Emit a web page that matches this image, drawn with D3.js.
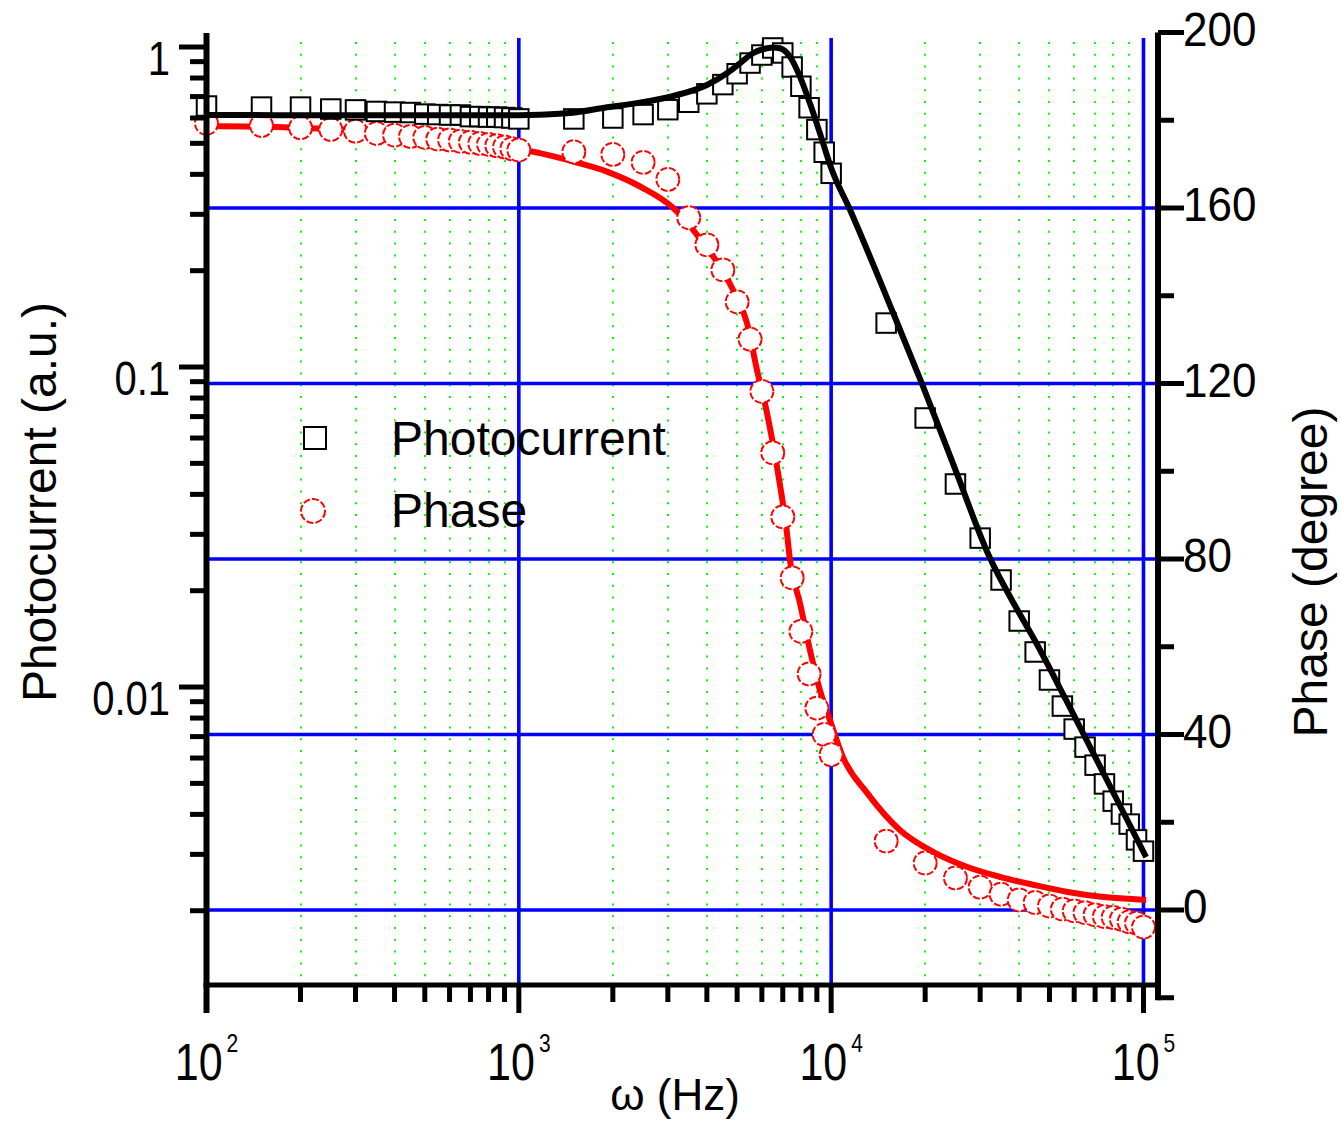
<!DOCTYPE html>
<html><head><meta charset="utf-8">
<script src="https://cdn.jsdelivr.net/npm/d3@7"></script>
<style>body{margin:0;background:#fff}svg{display:block}text{font-family:"Liberation Sans",Arial,sans-serif;fill:#000}</style>
</head><body><svg id="c" width="1341" height="1122"></svg>
<script>
// ---- data ----
const frequency = [100,150,200,250,300,350,400,450,500,550,600,650,700,750,800,850,900,950,1000,
  1500,2000,2500,3000,3500,4000,4500,5000,5500,6000,6500,7000,7500,8000,8500,9000,9500,10000,
  15000,20000,25000,30000,35000,40000,45000,50000,55000,60000,65000,70000,75000,80000,85000,90000,95000,100000];
const photocurrent = [0.654,0.649,0.649,0.640,0.636,0.629,0.626,0.624,0.617,0.615,0.613,0.613,0.606,0.606,0.604,0.604,0.602,0.600,0.596,
  0.596,0.600,0.615,0.637,0.672,0.714,0.763,0.825,0.891,0.944,0.993,0.958,0.866,0.754,0.646,0.552,0.469,0.403,
  0.1372,0.0693,0.0431,0.0292,0.0216,0.01608,0.01287,0.01052,0.00872,0.00739,0.00649,0.00570,0.00498,0.00440,0.00401,0.00373,0.00333,0.00307];
const phase = [179.3,178.8,178.3,177.9,177.5,177.0,176.6,176.3,176.1,175.7,175.5,175.2,175.0,174.7,174.5,174.2,173.9,173.5,173.2,
  172.8,172.2,170.4,166.5,157.8,151.6,145.9,138.6,130.1,118.2,104.2,89.6,75.7,63.5,53.8,46.0,40.0,35.4,
  15.7,10.7,7.3,5.2,3.6,2.3,1.7,0.9,0.2,-0.2,-0.6,-1.1,-1.5,-1.7,-2.1,-2.7,-3.0,-3.9];

const fitFreqCurrent = [100,300,1000,1170,1490,1915,2445,3124,4000,4636,5100,5617,6231,6540,6856,7380,7943,8551,9204,10000,11500,15800,19600,25000,32000,40000,45000,56500,65000,102000];
const fitCurrent = [0.613,0.612,0.612,0.614,0.623,0.648,0.670,0.703,0.761,0.828,0.889,0.956,0.991,0.997,0.991,0.933,0.808,0.667,0.538,0.419,0.3095,0.1475,0.0879,0.0477,0.0257,0.01703,0.01392,0.00911,0.00698,0.00294];

const fitFreqPhase = [100,176,300,560,1000,1170,1490,1915,2445,3124,3468,3891,4414,4854,5377,5786,6231,6708,7220,7380,7943,8551,9204,9908,10902,13030,16620,21270,27300,34940,44700,57250,73250,102000];
const fitPhase = [178.7,178.4,177.7,176.1,173.4,172.5,170.6,168.3,164.9,160.0,156.6,152.0,146.6,141.3,133.8,123.1,113.3,101.0,85.9,79.8,70.0,59.3,50.1,43.3,34.9,26.7,18.2,13.2,9.8,7.5,5.7,4.1,3.0,2.3];

const xMajorTicks = [100,1000,10000,100000];
const xTickExponents = ["2","3","4","5"];
const xMinorTicks = [200,300,400,500,600,700,800,900,2000,3000,4000,5000,6000,7000,8000,9000,20000,30000,40000,50000,60000,70000,80000,90000];
const leftMajorTicks = [1,0.1,0.01];
const leftTickLabels = ["1","0.1","0.01"];
const leftMinorTicks = [0.002,0.003,0.004,0.005,0.006,0.007,0.008,0.009,0.02,0.03,0.04,0.05,0.06,0.07,0.08,0.09,0.2,0.3,0.4,0.5,0.6,0.7,0.8,0.9];
const rightMajorTicks = [0,40,80,120,160,200];
const rightMinorTicks = [-20,20,60,100,140,180];
const phaseGridTicks = [0,40,80,120,160];
const seriesNames = ["Photocurrent","Phase"];

// ---- scales ----
const svg = d3.select("#c");
const x = d3.scaleLog().domain([100, 111300]).range([206.5, 1158]);
const yL = d3.scaleLog().domain([0.001172, 1.106]).range([985, 33]);
const yR = d3.scaleLinear().domain([-20, 200]).range([997.75, 32.5]);
const LEFT = 206.5, RIGHT = 1158, BOTTOM = 985, TOP = 33;

// ---- grid ----
const grid = svg.append("g");
grid.selectAll("line.gd").data(xMinorTicks).join("line")
  .attr("x1", d => Math.round(x(d))).attr("x2", d => Math.round(x(d)))
  .attr("y1", 42).attr("y2", 978)
  .attr("stroke", "#00ff00").attr("stroke-width", 2).attr("stroke-dasharray", "2 9.8");
grid.selectAll("line.bh").data(phaseGridTicks).join("line")
  .attr("x1", LEFT).attr("x2", RIGHT).attr("y1", d => yR(d)).attr("y2", d => yR(d))
  .attr("stroke", "#0000ff").attr("stroke-width", 3.4);
grid.selectAll("line.bv").data(xMajorTicks.slice(1)).join("line")
  .attr("x1", d => x(d)).attr("x2", d => x(d)).attr("y1", 38).attr("y2", BOTTOM)
  .attr("stroke", "#0000ff").attr("stroke-width", 3.6);

// ---- fits and markers ----
const phaseLine = d3.line().x(d => x(d[0])).y(d => yR(d[1])).curve(d3.curveMonotoneX);
svg.append("path").datum(fitFreqPhase.map((f, i) => [f, fitPhase[i]]))
  .attr("d", phaseLine).attr("fill", "none").attr("stroke", "#ff0000").attr("stroke-width", 6);

svg.append("g").selectAll("circle").data(frequency.map((f, i) => [f, phase[i]])).join("circle")
  .attr("cx", d => x(d[0])).attr("cy", d => yR(d[1])).attr("r", 11.5)
  .attr("fill", "#fff").attr("stroke", "#ff0000").attr("stroke-width", 2).attr("stroke-dasharray", "7 2.2");

const S = 19.5;
svg.append("g").selectAll("rect").data(frequency.map((f, i) => [f, photocurrent[i]])).join("rect")
  .attr("x", d => x(d[0]) - S / 2).attr("y", d => yL(d[1]) - S / 2).attr("width", S).attr("height", S)
  .attr("fill", "#fff").attr("stroke", "#000").attr("stroke-width", 2);

const curLine = d3.line().x(d => x(d[0])).y(d => yL(d[1])).curve(d3.curveMonotoneX);
svg.append("path").datum(fitFreqCurrent.map((f, i) => [f, fitCurrent[i]]))
  .attr("d", curLine).attr("fill", "none").attr("stroke", "#000").attr("stroke-width", 6);

// ---- axes ----
const ax = svg.append("g").attr("stroke", "#000");
ax.append("line").attr("x1", LEFT).attr("x2", LEFT).attr("y1", TOP).attr("y2", 1013).attr("stroke-width", 6);
ax.append("line").attr("x1", LEFT - 3).attr("x2", RIGHT + 3).attr("y1", BOTTOM).attr("y2", BOTTOM).attr("stroke-width", 5);
ax.append("line").attr("x1", RIGHT).attr("x2", RIGHT).attr("y1", 32.5).attr("y2", yR(-20) + 2.5).attr("stroke-width", 6);
ax.selectAll("line.xM").data(xMajorTicks.slice(1)).join("line")
  .attr("x1", d => x(d)).attr("x2", d => x(d)).attr("y1", BOTTOM).attr("y2", 1013).attr("stroke-width", 5);
ax.selectAll("line.xm").data(xMinorTicks).join("line")
  .attr("x1", d => x(d)).attr("x2", d => x(d)).attr("y1", BOTTOM).attr("y2", 1002).attr("stroke-width", 5);
ax.selectAll("line.lM").data(leftMajorTicks).join("line")
  .attr("x1", 179).attr("x2", LEFT).attr("y1", d => yL(d)).attr("y2", d => yL(d)).attr("stroke-width", 5);
ax.selectAll("line.lm").data(leftMinorTicks).join("line")
  .attr("x1", 190).attr("x2", LEFT).attr("y1", d => yL(d)).attr("y2", d => yL(d)).attr("stroke-width", 5);
ax.selectAll("line.rM").data(rightMajorTicks).join("line")
  .attr("x1", RIGHT).attr("x2", 1184).attr("y1", d => yR(d)).attr("y2", d => yR(d)).attr("stroke-width", 5);
ax.selectAll("line.rm").data(rightMinorTicks).join("line")
  .attr("x1", RIGHT).attr("x2", 1174).attr("y1", d => yR(d)).attr("y2", d => yR(d)).attr("stroke-width", 5);

// ---- tick labels ----
xMajorTicks.forEach((v, i) => {
  const t = svg.append("text").attr("text-anchor", "middle").attr("font-size", 43)
    .attr("transform", `translate(${x(v)},1080) scale(1,1.2)`);
  t.append("tspan").text("10");
  t.append("tspan").attr("font-size", 21).attr("dx", 4).attr("dy", -23.3).text(xTickExponents[i]);
});
leftMajorTicks.forEach((v, i) => {
  svg.append("text").attr("text-anchor", "end").attr("font-size", 40)
    .attr("transform", `translate(170,${yL(v) + 28}) scale(1,1.2)`).text(leftTickLabels[i]);
});
rightMajorTicks.forEach(v => {
  svg.append("text").attr("text-anchor", "start").attr("font-size", 44)
    .attr("transform", `translate(1183,${yR(v) + 13}) scale(1,1.1)`).text(String(v));
});

// ---- titles ----
svg.append("text").attr("text-anchor", "middle").attr("font-size", 44)
  .attr("x", 675).attr("y", 1110).text("ω (Hz)");
svg.append("text").attr("text-anchor", "middle").attr("font-size", 48)
  .attr("transform", "translate(56,502) rotate(-90)").text("Photocurrent (a.u.)");
svg.append("text").attr("text-anchor", "middle").attr("font-size", 48)
  .attr("transform", "translate(1327,572) rotate(-90)").text("Phase (degree)");

// ---- legend ----
const lg = svg.append("g");
lg.append("rect").attr("x", 315 - 11).attr("y", 438 - 11).attr("width", 22).attr("height", 22)
  .attr("fill", "#fff").attr("stroke", "#000").attr("stroke-width", 2);
lg.append("circle").attr("cx", 313).attr("cy", 511).attr("r", 12)
  .attr("fill", "#fff").attr("stroke", "#ff0000").attr("stroke-width", 2).attr("stroke-dasharray", "7 2.2");
lg.append("text").attr("x", 391).attr("y", 455).attr("font-size", 48).text(seriesNames[0]);
lg.append("text").attr("x", 391).attr("y", 527).attr("font-size", 48).text(seriesNames[1]);
</script></body></html>
